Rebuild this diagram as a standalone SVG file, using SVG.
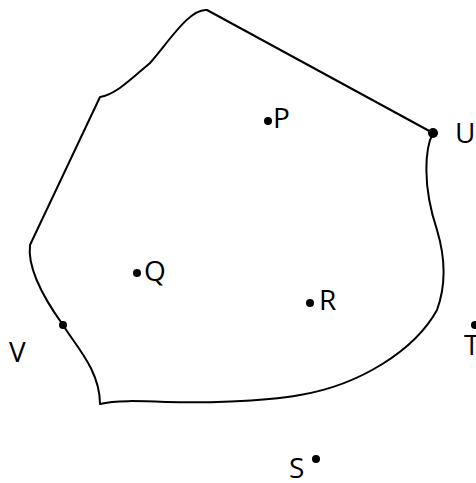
<svg xmlns="http://www.w3.org/2000/svg" width="476" height="483" viewBox="0 0 476 483">
<style>
.outline{fill:none;stroke:#000;stroke-width:2;stroke-linejoin:round}
.dot{fill:#000}
.lbl{font-family:"Open Sans","Liberation Sans",sans-serif;font-size:28px;fill:#000}
</style>
<rect width="476" height="483" fill="#fff"/>
<g id="region">
<path class="outline" d="M207,10 L433,133 C425,148 422,185 437,230 C443,250 448,280 437,310 C415,350 360,385 300,395 C260,402 200,403 167,402 C140,401 115,400 100,404 C100,370 75,345 63,325 C45,300 27,270 30,245 L100,97 C115,95 130,80 150,63 C170,40 190,8 207,10 Z"/>
</g>
<g id="P"><circle class="dot" cx="268" cy="121" r="4"/><text class="lbl" x="273" y="128">P</text></g>
<g id="U"><circle class="dot" cx="433" cy="133" r="5"/><text class="lbl" x="455" y="143">U</text></g>
<g id="Q"><circle class="dot" cx="137" cy="273" r="4"/><text class="lbl" x="144" y="281">Q</text></g>
<g id="R"><circle class="dot" cx="310" cy="303" r="4"/><text class="lbl" x="319" y="310">R</text></g>
<g id="V"><circle class="dot" cx="63" cy="325" r="4"/><text class="lbl" x="9" y="362">V</text></g>
<g id="T"><circle class="dot" cx="475" cy="325" r="4"/><text class="lbl" x="464" y="355">T</text></g>
<g id="S"><circle class="dot" cx="316" cy="459" r="4"/><text class="lbl" x="289" y="478">S</text></g>
</svg>
